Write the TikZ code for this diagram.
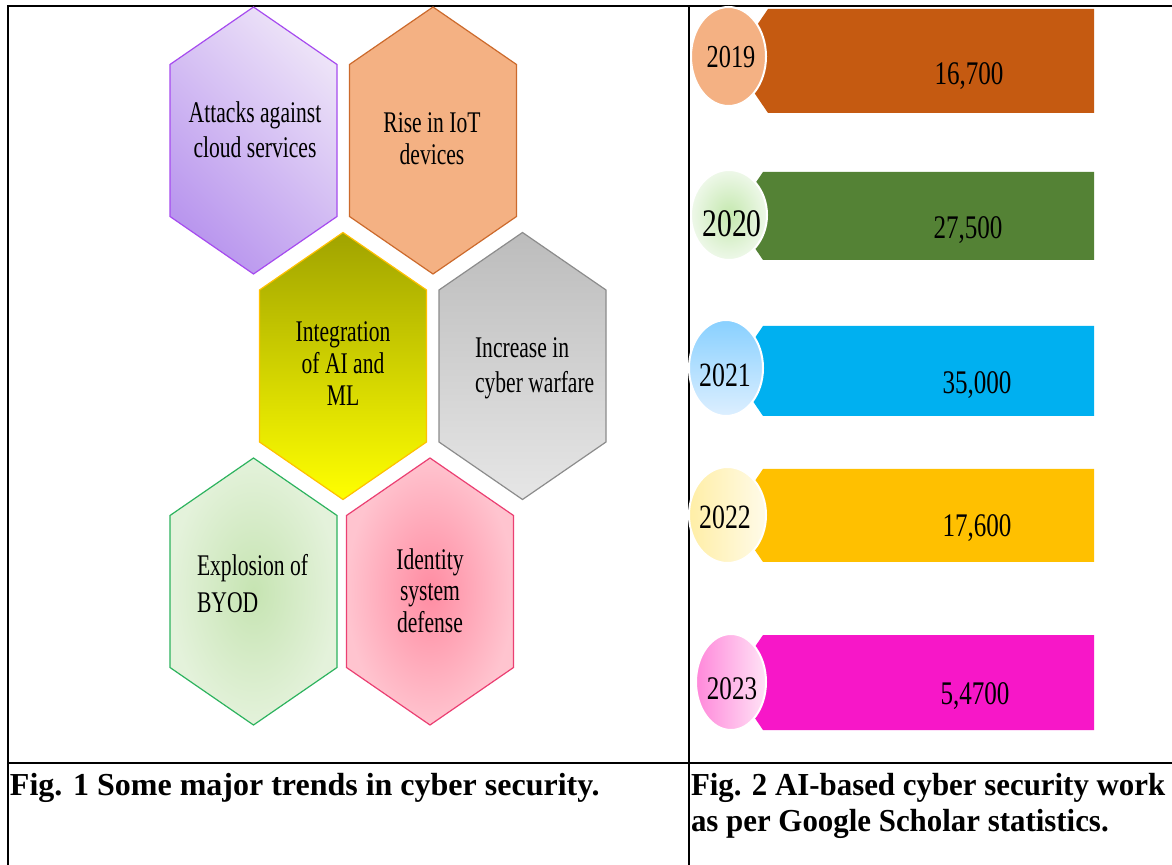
\documentclass[tikz,border=0pt]{standalone}
\usepackage{fontspec}
\setmainfont{Liberation Serif}
\usepackage{graphicx}

% hexagon palette
\definecolor{purpLine}{HTML}{A64BEF}
\definecolor{purpLight}{HTML}{EDE3F8}
\definecolor{purpDark}{HTML}{B996EE}
\definecolor{orngLine}{HTML}{CC6A2C}
\definecolor{orngFill}{HTML}{F4B183}
\definecolor{yelLine}{HTML}{FFC000}
\definecolor{yelTop}{HTML}{A0A300}
\definecolor{yelBot}{HTML}{FFFF00}
\definecolor{grayLine}{HTML}{8C8C8C}
\definecolor{grayTop}{HTML}{BCBCBC}
\definecolor{grayBot}{HTML}{E6E6E6}
\definecolor{grnLine}{HTML}{2DB35E}
\definecolor{grnIn}{HTML}{C6E4B2}
\definecolor{grnOut}{HTML}{E4F2DB}
\definecolor{pinkLine}{HTML}{EB3F72}
\definecolor{pinkIn}{HTML}{FF8CA2}
\definecolor{pinkOut}{HTML}{FFC4CF}
% bar palette
\definecolor{barA}{HTML}{C55A11}
\definecolor{barB}{HTML}{548235}
\definecolor{barC}{HTML}{00B0F0}
\definecolor{barD}{HTML}{FFC000}
\definecolor{barE}{HTML}{F717C8}
\definecolor{dotA}{HTML}{F4B183}
\definecolor{dotBin}{HTML}{C4E8AE}
\definecolor{dotBout}{HTML}{EEF8E9}
\definecolor{dotCtop}{HTML}{88D0FF}
\definecolor{dotCbot}{HTML}{DDEFFF}
\definecolor{dotDleft}{HTML}{FFEEA6}
\definecolor{dotDright}{HTML}{FFFBE9}
\definecolor{dotEleft}{HTML}{FF88DA}
\definecolor{dotEright}{HTML}{FFE3F6}

% tall hexagon centred on (#2,#3)
\newcommand\hexcell[3]{%
  \path[#1] ({#2},{#3-133.5}) -- ({#2+83.5},{#3-76}) -- ({#2+83.5},{#3+76})
    -- ({#2},{#3+133.5}) -- ({#2-83.5},{#3+76}) -- ({#2-83.5},{#3-76}) -- cycle;}
% condensed multi-line label: column spec, line spacing, lines
\newcommand\hexlabel[3]{%
  \scalebox{0.72}[1]{\fontsize{15}{#2}\selectfont\begin{tabular}[t]{@{}#1@{}}#3\end{tabular}}}
% value bar with notched left end: colour, top, bottom, left edge
\newcommand\valuebar[4]{%
  \path[fill=#1] (#4,#2) -- (1094,#2) -- (1094,#3) -- (#4,#3)
    -- ({#4-0.68*(#3-#2)/2},{(#2+#3)/2}) -- cycle;}
% condensed numerals
\newcommand\numtext[2]{\scalebox{0.76}[1]{\fontsize{#1}{#1}\selectfont #2}}

\begin{document}
\begin{tikzpicture}[x=0.5pt,y=-0.5pt,
  lbl/.style={inner sep=0pt,outer sep=0pt,text=black},
  rule/.style={line width=1pt,draw=black},
  hexline/.style={line width=0.6pt},
  dot/.style={draw=white,line width=1pt},
  caption/.style={lbl,font=\fontsize{16}{19}\selectfont\bfseries}]
\useasboundingbox (0,0) rectangle (1172,865);
\fill[white] (0,0) rectangle (1172,865);

% table rules
\draw[rule] (8,865) -- (8,6) -- (1172,6);
\draw[rule] (689,6) -- (689,865);
\draw[rule] (8,763) -- (1172,763);

% ---- trend hexagons ----
\hexcell{hexline,draw=purpLine,top color=purpLight,bottom color=purpDark,shading angle=-45}{253.5}{140.5}
\hexcell{hexline,draw=orngLine,fill=orngFill}{433}{140.5}
\hexcell{hexline,draw=yelLine,top color=yelTop,bottom color=yelBot}{343}{366}
\hexcell{hexline,draw=grayLine,top color=grayTop,bottom color=grayBot}{522.5}{366}
\hexcell{hexline,draw=grnLine,inner color=grnIn,outer color=grnOut}{253.5}{591.5}
\hexcell{hexline,draw=pinkLine,inner color=pinkIn,outer color=pinkOut}{430}{591.5}

\node[lbl,anchor=base] (t1) at (255,123) {\hexlabel{c}{17.5pt}{Attacks against\\cloud services}};
\node[lbl,anchor=base] (t2) at (432,133) {\hexlabel{c}{16pt}{Rise in IoT\\devices}};
\node[lbl,anchor=base] (t3) at (343,342) {\hexlabel{c}{15.8pt}{Integration\\of AI and\\ML}};
\node[lbl,anchor=base west] (t4) at (475,358) {\hexlabel{l}{17.5pt}{Increase in\\cyber warfare}};
\node[lbl,anchor=base west] (t5) at (197,575) {\hexlabel{l}{18.5pt}{Explosion of\\BYOD}};
\node[lbl,anchor=base] (t6) at (430,569) {\hexlabel{c}{15.8pt}{Identity\\system\\defense}};

% ---- yearly bars ----
\valuebar{barA}{9}{113}{768}
\valuebar{barB}{172}{260}{763}
\valuebar{barC}{326}{416}{763}
\valuebar{barD}{469}{562}{763}
\valuebar{barE}{635}{730}{763}

\path[dot,fill=dotA] (728.5,56.5) ellipse [x radius=37.5,y radius=49.5];
\path[dot,inner color=dotBin,outer color=dotBout] (729,215) ellipse [x radius=38,y radius=45];
\path[dot,top color=dotCtop,bottom color=dotCbot] (726,368) ellipse [x radius=37,y radius=48];
\path[dot,left color=dotDleft,right color=dotDright] (727.5,515) ellipse [x radius=38.5,y radius=48];
\path[dot,left color=dotEleft,right color=dotEright] (731,682) ellipse [x radius=35,y radius=48];

\node[lbl,anchor=base] (y2019) at (731,68) {\numtext{16}{2019}};
\node[lbl,anchor=base] (y2020) at (732,237) {\numtext{19.5}{2020}};
\node[lbl,anchor=base] (y2021) at (725,387) {\numtext{17}{2021}};
\node[lbl,anchor=base] (y2022) at (725,529) {\numtext{17}{2022}};
\node[lbl,anchor=base] (y2023) at (732,699) {\numtext{16.5}{2023}};

\node[lbl,anchor=base] (v2019) at (969,85) {\numtext{16.5}{16,700}};
\node[lbl,anchor=base] (v2020) at (968,239) {\numtext{16.5}{27,500}};
\node[lbl,anchor=base] (v2021) at (977,394) {\numtext{16.5}{35,000}};
\node[lbl,anchor=base] (v2022) at (977,537) {\numtext{16.5}{17,600}};
\node[lbl,anchor=base] (v2023) at (975,704) {\numtext{16.5}{5,4700}};

% ---- captions ----
\node[caption,anchor=base west] (cap1) at (10,795) {Fig. 1 Some major trends in cyber security.};
\node[caption,anchor=base west] (cap2a) at (691,795) {\scalebox{0.965}[1]{Fig. 2 AI-based cyber security work}};
\node[caption,anchor=base west] (cap2b) at (691,831) {\scalebox{0.965}[1]{as per Google Scholar statistics.}};
\end{tikzpicture}
\end{document}
